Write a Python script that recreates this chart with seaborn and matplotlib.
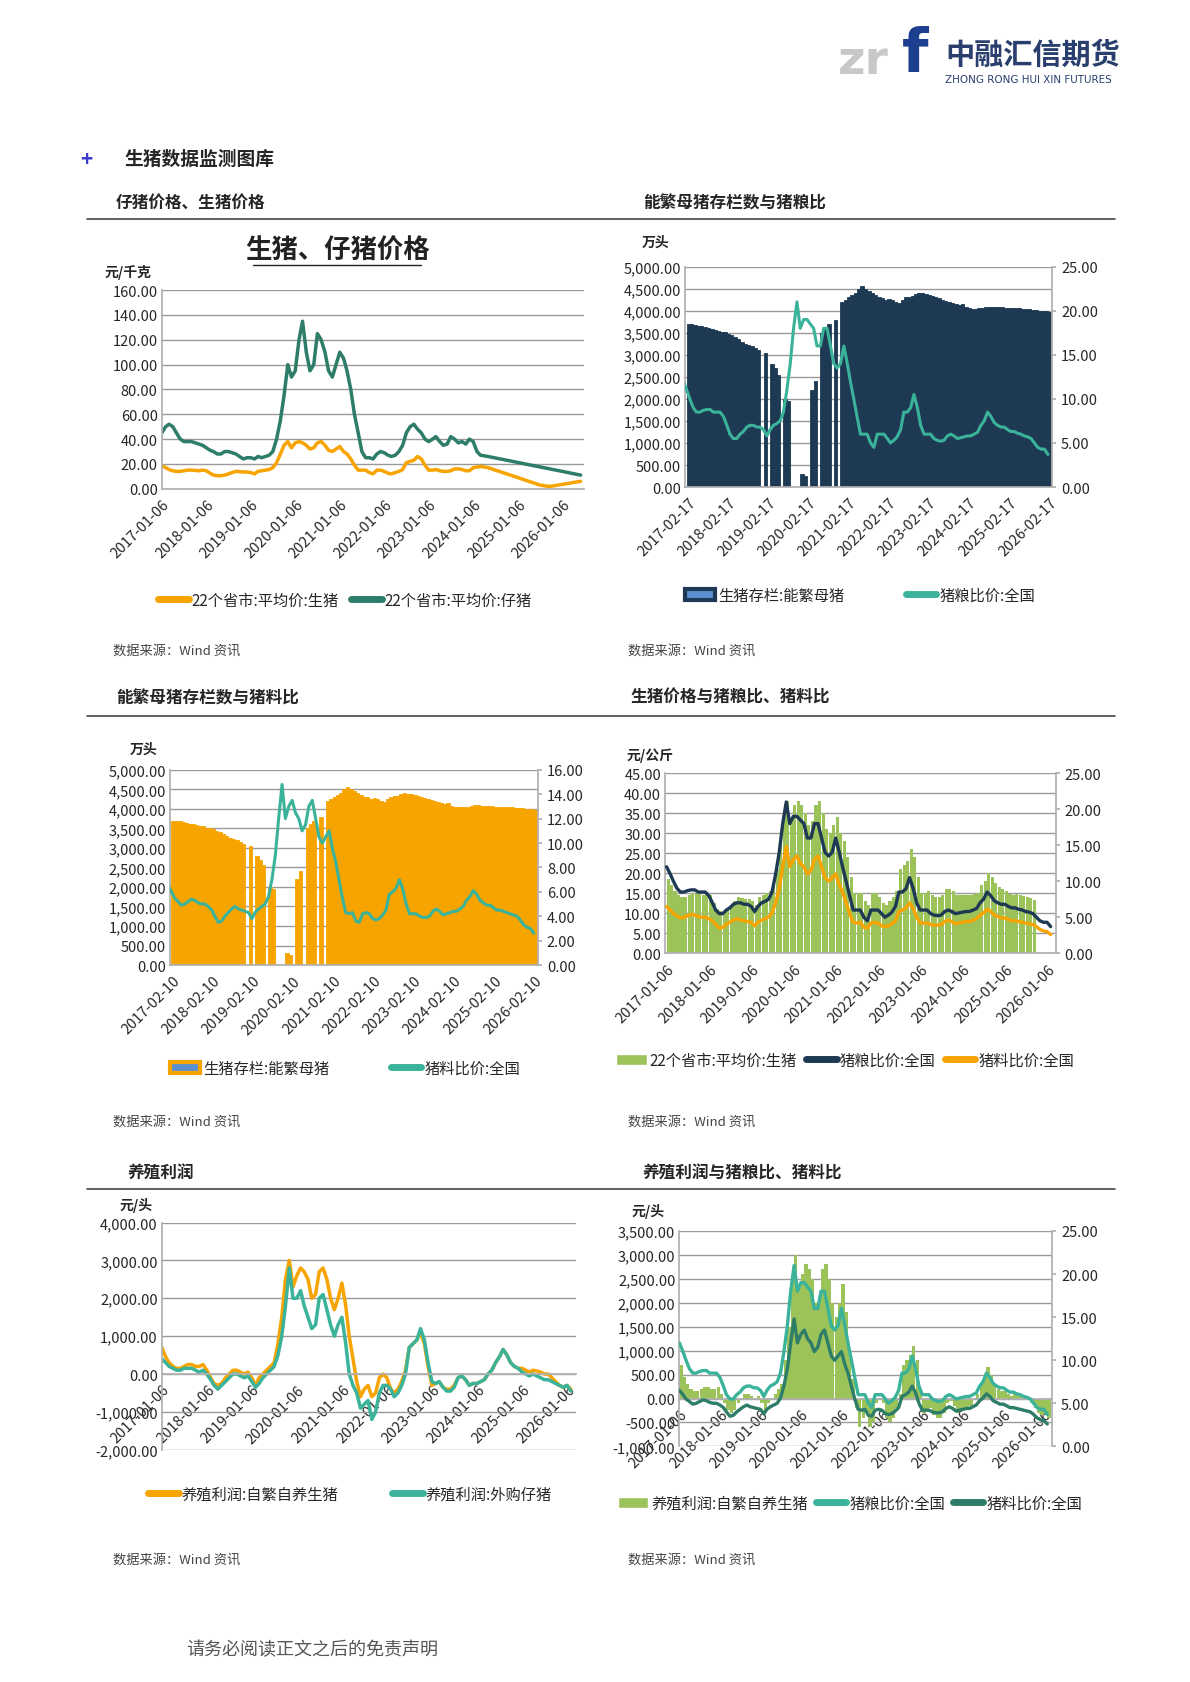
import numpy as np
import pandas as pd
import matplotlib
matplotlib.use('Agg')
import matplotlib.pyplot as plt
from matplotlib.ticker import FuncFormatter, MultipleLocator
from matplotlib.lines import Line2D
from matplotlib.patches import Patch
import seaborn as sns

sns.set_theme(style='white')
plt.rcParams['font.family'] = ['Noto Sans CJK SC', 'DejaVu Sans']
plt.rcParams['axes.unicode_minus'] = False

# ---------------- data (monthly readings) ----------------
months = pd.date_range('2017-01-01', '2026-02-01', freq='MS')

hog_price = [18.5, 17, 15.5, 14.5, 14, 14, 14.5, 15, 15, 14.8, 14.5, 15,
             14.5, 12.5, 11, 10.5, 10.5, 11, 12, 13, 14, 13.8, 13.5, 13.5,
             13, 12, 14, 14.5, 15, 15.5, 17, 21, 28, 35, 38, 33,
             37, 38, 37, 35, 32, 33, 37, 38, 35, 31, 30, 32,
             34, 30, 28, 24, 19, 15, 15, 15, 13, 12, 15, 15,
             14, 12.5, 12, 13, 14, 15.5, 21, 22, 23, 26, 24, 19,
             15, 15, 15.5, 14.5, 14, 14, 14.5, 16, 16, 15.5, 14.5, 14.5,
             14.5, 14.5, 14.5, 14.8, 15, 17, 18, 20, 19, 17.5, 16.5, 16,
             15.5, 14.8, 14.5, 14.8, 14.6, 14.3, 14, 13.8, 13.3, np.nan, np.nan, np.nan,
             np.nan, np.nan]

hog_grain = [12, 11, 10, 9, 8.5, 8.5, 8.7, 8.8, 8.8, 8.5, 8.5, 8.5,
             8, 7, 6, 5.5, 5.5, 6, 6.3, 6.8, 7, 7, 6.8, 6.8,
             6.5, 5.8, 6.5, 7, 7.2, 7.5, 8.5, 11, 14, 18, 21, 18,
             19, 19, 18.5, 18, 16, 16, 18, 18, 16, 14, 13.5, 14,
             16, 14, 12, 10, 8, 6, 6, 6, 5, 4.5, 6, 6,
             6, 5.5, 5, 5.3, 5.7, 6.5, 8.5, 8.5, 9, 10.5, 9, 7,
             6, 6, 6, 5.5, 5.3, 5.2, 5.3, 5.8, 6, 5.8, 5.5, 5.6,
             5.7, 5.8, 5.8, 6, 6.2, 7, 7.5, 8.5, 8, 7.3, 7, 6.8,
             6.8, 6.5, 6.3, 6.3, 6.1, 6, 5.8, 5.7, 5.5, 5, 4.5, 4.3,
             4.3, 3.7]

hog_feed = [6.5, 6, 5.5, 5.2, 4.9, 5, 5.2, 5.4, 5.3, 5.1, 5, 5,
            4.8, 4.5, 4, 3.5, 3.6, 4, 4.3, 4.6, 4.8, 4.6, 4.5, 4.4,
            4.3, 3.8, 4.3, 4.6, 4.8, 5, 5.6, 7, 9, 12, 14.8, 12,
            13, 13.5, 12.5, 12, 11, 11.5, 13, 13.5, 12, 10.5, 10, 10.5,
            11, 9.5, 8.5, 7, 5.5, 4.3, 4.2, 4.3, 3.6, 3.5, 4.2, 4.3,
            4.2, 3.8, 3.7, 3.8, 4.1, 4.5, 5.8, 6, 6.3, 7, 6.2, 5,
            4.2, 4.2, 4.2, 4, 3.9, 3.9, 4, 4.4, 4.6, 4.4, 4.1, 4.2,
            4.3, 4.4, 4.4, 4.6, 4.8, 5.3, 5.6, 6.1, 5.8, 5.3, 5.1, 4.9,
            4.9, 4.7, 4.5, 4.5, 4.4, 4.3, 4.2, 4.1, 4, 3.7, 3.3, 3.1,
            3.0, 2.6]

profit_self = [700, 450, 300, 200, 150, 150, 200, 250, 250, 200, 200, 250,
               100, -100, -250, -300, -250, -100, 0, 100, 100, 50, 0, 50,
               -100, -300, -100, 0, 100, 200, 300, 800, 1500, 2500, 3000, 2300,
               2600, 2800, 2700, 2500, 2000, 2100, 2700, 2800, 2500, 2000, 1700, 2000,
               2400, 1800, 1000, 400, -200, -600, -400, -300, -600, -500, -100, 0,
               -100, -400, -500, -400, -200, 100, 700, 800, 900, 1100, 800, 200,
               -300, -250, -200, -350, -400, -400, -300, -100, -50, -150, -300, -250,
               -250, -200, -150, 0, 100, 300, 450, 650, 500, 300, 200, 150,
               150, 100, 50, 100, 80, 50, 0, 0, -100, -200, -300, -350,
               -300, -400]

profit_buy = [400, 300, 200, 150, 100, 100, 150, 150, 150, 100, 50, 100,
              0, -150, -300, -400, -300, -200, -100, 0, 0, -50, -100, -50,
              -200, -350, -250, -100, 0, 100, 200, 500, 1000, 1800, 2800, 2000,
              2000, 2200, 1800, 1500, 1200, 1300, 2000, 2100, 1700, 1300, 1000, 1300,
              1500, 800, 0, -300, -500, -900, -800, -700, -1200, -1000, -500, -300,
              -300, -400, -600, -500, -300, 0, 700, 800, 900, 1200, 900, 300,
              -200, -250, -200, -350, -450, -450, -350, -100, -50, -150, -300, -250,
              -250, -200, -150, 0, 100, 300, 450, 650, 500, 300, 200, 150,
              50, 0, -50, 0, -50, -100, -150, -150, -200, -250, -300, -350,
              -300, -450]

# sow inventory, 2017-02 .. 2026-02 (gaps = missing)
sow_months = pd.date_range('2017-02-01', '2026-02-01', freq='MS')
sow_stock = [3700, 3690, 3680, 3660, 3650, 3620, 3600, 3580, 3560, 3550, 3520,
             3510, 3480, 3440, 3400, 3350, 3300, 3250, 3220, 3200, 3150, 3100, np.nan,
             3050, np.nan, 2800, 2700, 2550, np.nan, 2000, 1950, np.nan, np.nan, np.nan, 300,
             250, np.nan, 2200, 2400, np.nan, 3500, 3600, 3700, np.nan, 3800, np.nan, 4200,
             4250, 4300, 4350, 4400, 4500, 4564, 4500, 4450, 4400, 4350, 4300, 4296,
             4250, 4270, 4250, 4200, 4180, 4250, 4300, 4320, 4340, 4380, 4400, 4390,
             4380, 4350, 4330, 4300, 4280, 4250, 4220, 4200, 4180, 4150, 4120, 4142,
             4080, 4050, 4040, 4040, 4050, 4060, 4080, 4090, 4090, 4080, 4080, 4080,
             4070, 4060, 4050, 4050, 4050, 4040, 4040, 4030, 4020, 4010, 4000, 3990,
             3990, 3970]

# chart 1 (its own series, runs to 2026-06)
c1_months = pd.date_range('2017-01-01', '2026-06-01', freq='MS')
c1_hog = hog_price[:84] + [17, 17.5, 18,
                           17.5, 17, 16, 15, 14, 13, 12, 11, 10, 9, 8, 7, 6, 5, 4, 3,
                           2.5, 2, 2, 2.5, 3, 3.5, 4, 4.5, 5, 5.5, 6]
c1_piglet = [45, 50, 52, 50, 45, 40, 38, 38, 38, 37, 36, 35,
             33, 31, 30, 28, 28, 30, 30, 29, 28, 26, 24, 25,
             25, 24, 26, 25, 26, 27, 30, 40, 55, 75, 100, 90,
             95, 120, 135, 110, 95, 100, 125, 120, 110, 95, 90, 100,
             110, 105, 95, 80, 60, 45, 30, 25, 25, 24, 28, 30,
             29, 27, 26, 27, 30, 35, 45, 50, 52, 48, 45, 40,
             38, 40, 42, 38, 35, 36, 42, 40, 37, 38, 36, 40,
             38, 30, 27,
             26.5, 26, 25.4, 24.8, 24.2, 23.6, 23, 22.4, 21.8, 21.2, 20.6, 20,
             19.4, 18.8, 18.2, 17.6, 17, 16.4, 15.8, 15.2, 14.6, 14, 13.4, 12.8,
             12.2, 11.6, 11]

ORANGE = '#f7a400'
TEAL = '#3bb39a'
DKGREEN = '#2e7d68'
NAVY = '#1d3953'
OLIVE = '#9bc35a'

# ---------------- figure ----------------
fig = plt.figure(figsize=(11.9, 16.83), dpi=100)
fig.patch.set_facecolor('white')


def px(x, y):
    return x / 1190, 1 - y / 1683


def fmt2(v, pos):
    return f'{v:,.2f}'


def style_ax(ax, ticks_fmt, start, end, lo, hi, step, zero_axis=False):
    ax.set_facecolor('white')
    ax.set_xlim(pd.Timestamp(start), pd.Timestamp(end))
    ax.set_ylim(lo, hi)
    ax.yaxis.set_major_locator(MultipleLocator(step))
    ax.yaxis.set_major_formatter(FuncFormatter(fmt2))
    ax.grid(axis='y', color='#9a9a9a', lw=1.0)
    ax.set_axisbelow(True)
    for s in ['top', 'right']:
        ax.spines[s].set_visible(False)
    ax.spines['left'].set_color('#b0b0b0')
    ax.spines['bottom'].set_color('#b0b0b0')
    if zero_axis:
        ax.spines['bottom'].set_position(('data', 0))
    ticks = [pd.Timestamp(f'{y}-{ticks_fmt}') for y in range(2017, 2027)]
    ax.set_xticks(ticks)
    ax.set_xticklabels([t.strftime('%Y-%m-%d') for t in ticks], rotation=45,
                       ha='right', rotation_mode='anchor', fontsize=10.5)
    ax.tick_params(axis='x', length=4, color='#b0b0b0', pad=2)
    ax.tick_params(axis='y', labelsize=10.5, length=0, pad=3)


def twin(ax, lo, hi, step):
    a2 = ax.twinx()
    a2.set_ylim(lo, hi)
    a2.yaxis.set_major_locator(MultipleLocator(step))
    a2.yaxis.set_major_formatter(FuncFormatter(fmt2))
    a2.tick_params(axis='y', labelsize=10.5, length=3, color='#b0b0b0')
    for s in ['top', 'left', 'bottom']:
        a2.spines[s].set_visible(False)
    a2.spines['right'].set_color('#b0b0b0')
    a2.grid(False)
    return a2


def line_h(c):
    return Line2D([0], [0], color=c, lw=5)


# ---- header ----
fig.text(*px(838, 62), 'zr', fontsize=34, color='#c8c8c8', fontweight='bold',
         va='center', family='DejaVu Sans')
fig.text(*px(902, 55), 'f', fontsize=44, color='#1d3f8f', fontweight='bold',
         va='center', family='DejaVu Sans')
fig.text(*px(945, 55), '中融汇信期货', fontsize=21, color='#2a3f6e',
         fontweight='bold', va='center')
fig.text(*px(945, 80), 'ZHONG RONG HUI XIN FUTURES', fontsize=7.5,
         color='#2a3f6e', va='center', family='DejaVu Sans')

fig.text(*px(80, 159), '+', fontsize=15, color='#3b3bd0', fontweight='bold', va='center')
fig.text(*px(124, 159), '生猪数据监测图库', fontsize=13.5, va='center', fontweight='bold')

for y in (220, 717, 1190):
    fig.add_artist(Line2D([87 / 1190, 1115 / 1190], [1 - y / 1683] * 2,
                          color='#444444', lw=1.2))
heads = [(116, 203, '仔猪价格、生猪价格'), (643, 203, '能繁母猪存栏数与猪粮比'),
         (116, 698, '能繁母猪存栏数与猪料比'), (630, 698, '生猪价格与猪粮比、猪料比'),
         (128, 1174, '养殖利润'), (643, 1174, '养殖利润与猪粮比、猪料比')]
for x, y, t in heads:
    fig.text(*px(x, y), t, fontsize=12, va='center', fontweight='bold')
for x, y in [(113, 651), (628, 651), (113, 1122), (628, 1122), (113, 1560), (628, 1560)]:
    fig.text(*px(x, y), '数据来源：Wind 资讯', fontsize=9.5, color='#444444', va='center')
fig.text(*px(186, 1650), '请务必阅读正文之后的免责声明', fontsize=13, color='#555555', va='center')

# ---- chart 1 ----
ax1 = fig.add_axes([0.136, 0.709, 0.355, 0.118])
style_ax(ax1, '01-06', '2017-01-01', '2026-07-01', 0, 160, 20)
sns.lineplot(x=c1_months, y=c1_hog, ax=ax1, color=ORANGE, lw=2.5)
sns.lineplot(x=c1_months, y=c1_piglet, ax=ax1, color=DKGREEN, lw=2.5)
ax1.set_xlabel(''); ax1.set_ylabel('')
fig.text(*px(337, 251), '生猪、仔猪价格', fontsize=19, ha='center', va='center',
         fontweight='bold', color='#222222')
fig.add_artist(Line2D([253 / 1190, 421 / 1190], [1 - 266 / 1683] * 2, color='#222222', lw=1))
fig.text(*px(105, 273), '元/千克', fontsize=10, va='center', fontweight='bold')
fig.legend([line_h(ORANGE), line_h(DKGREEN)], ['22个省市:平均价:生猪', '22个省市:平均价:仔猪'],
           loc='center', bbox_to_anchor=(px(345, 601)), ncol=2, frameon=False,
           fontsize=11, handlelength=2, columnspacing=0.8, handletextpad=0.2)

# ---- chart 2 ----
ax2 = fig.add_axes([0.576, 0.710, 0.308, 0.131])
style_ax(ax2, '02-17', '2017-01-20', '2026-03-10', 0, 5000, 500)
ax2.bar(sow_months, sow_stock, width=32, color=NAVY, edgecolor=NAVY, lw=0.6, align='edge')
ax2b = twin(ax2, 0, 25, 5)
sns.lineplot(x=months, y=hog_grain, ax=ax2b, color=TEAL, lw=2.2)
ax2b.set_ylabel('')
fig.text(*px(642, 243), '万头', fontsize=10, va='center', fontweight='bold')
fig.legend([Patch(facecolor='#5a8fd0', edgecolor=NAVY, lw=3), line_h(TEAL)],
           ['生猪存栏:能繁母猪', '猪粮比价:全国'], loc='center',
           bbox_to_anchor=(px(860, 596)), ncol=2, frameon=False, fontsize=11,
           handlelength=2, columnspacing=4, handletextpad=0.2)

# ---- chart 3 ----
ax3 = fig.add_axes([0.143, 0.426, 0.309, 0.116])
style_ax(ax3, '02-10', '2017-01-20', '2026-03-10', 0, 5000, 500)
ax3.bar(sow_months, sow_stock, width=32, color=ORANGE, edgecolor=ORANGE, lw=0.6, align='edge')
ax3b = twin(ax3, 0, 16, 2)
sns.lineplot(x=months, y=hog_feed, ax=ax3b, color=TEAL, lw=2.2)
ax3b.set_ylabel('')
fig.text(*px(130, 750), '万头', fontsize=10, va='center', fontweight='bold')
fig.legend([Patch(facecolor='#5a8fd0', edgecolor=ORANGE, lw=3), line_h(TEAL)],
           ['生猪存栏:能繁母猪', '猪料比价:全国'], loc='center',
           bbox_to_anchor=(px(345, 1069)), ncol=2, frameon=False, fontsize=11,
           handlelength=2, columnspacing=4, handletextpad=0.2)

# ---- chart 4 ----
ax4 = fig.add_axes([0.559, 0.433, 0.328, 0.107])
style_ax(ax4, '01-06', '2016-12-20', '2026-03-15', 0, 45, 5)
ax4.bar(months, hog_price, width=27, color=OLIVE, lw=0, align='edge')
ax4b = twin(ax4, 0, 25, 5)
sns.lineplot(x=months, y=hog_grain, ax=ax4b, color=NAVY, lw=2.4)
sns.lineplot(x=months, y=hog_feed, ax=ax4b, color=ORANGE, lw=2.4)
ax4b.set_ylabel('')
fig.text(*px(627, 756), '元/公斤', fontsize=10, va='center', fontweight='bold')
fig.legend([Patch(facecolor=OLIVE), line_h(NAVY), line_h(ORANGE)],
           ['22个省市:平均价:生猪', '猪粮比价:全国', '猪料比价:全国'], loc='center',
           bbox_to_anchor=(px(845, 1061)), ncol=3, frameon=False, fontsize=11,
           handlelength=2, columnspacing=0.6, handletextpad=0.2)

# ---- chart 5 ----
ax5 = fig.add_axes([0.136, 0.138, 0.348, 0.135])
style_ax(ax5, '01-06', '2017-01-01', '2026-03-15', -2000, 4000, 1000, zero_axis=True)
sns.lineplot(x=months, y=profit_self, ax=ax5, color=ORANGE, lw=2.5)
sns.lineplot(x=months, y=profit_buy, ax=ax5, color=TEAL, lw=2.5)
ax5.set_xlabel(''); ax5.set_ylabel('')
fig.text(*px(120, 1206), '元/头', fontsize=10, va='center', fontweight='bold')
fig.legend([line_h(ORANGE), line_h(TEAL)], ['养殖利润:自繁自养生猪', '养殖利润:外购仔猪'],
           loc='center', bbox_to_anchor=(px(350, 1495)), ncol=2, frameon=False,
           fontsize=11, handlelength=2, columnspacing=3.5, handletextpad=0.2)

# ---- chart 6 ----
ax6 = fig.add_axes([0.571, 0.140, 0.313, 0.128])
style_ax(ax6, '01-06', '2017-01-01', '2026-03-15', -1000, 3500, 500, zero_axis=True)
ax6.bar(months, profit_self, width=29, color=OLIVE, lw=0, align='edge')
ax6b = twin(ax6, 0, 25, 5)
sns.lineplot(x=months, y=hog_grain, ax=ax6b, color=TEAL, lw=2.4)
sns.lineplot(x=months, y=hog_feed, ax=ax6b, color=DKGREEN, lw=2.4)
ax6b.set_ylabel('')
fig.text(*px(632, 1212), '元/头', fontsize=10, va='center', fontweight='bold')
fig.legend([Patch(facecolor=OLIVE), line_h(TEAL), line_h(DKGREEN)],
           ['养殖利润:自繁自养生猪', '猪粮比价:全国', '猪料比价:全国'], loc='center',
           bbox_to_anchor=(px(850, 1504)), ncol=3, frameon=False, fontsize=11,
           handlelength=2, columnspacing=0.5, handletextpad=0.2)

fig.savefig('out.png', dpi=100, facecolor='white')
